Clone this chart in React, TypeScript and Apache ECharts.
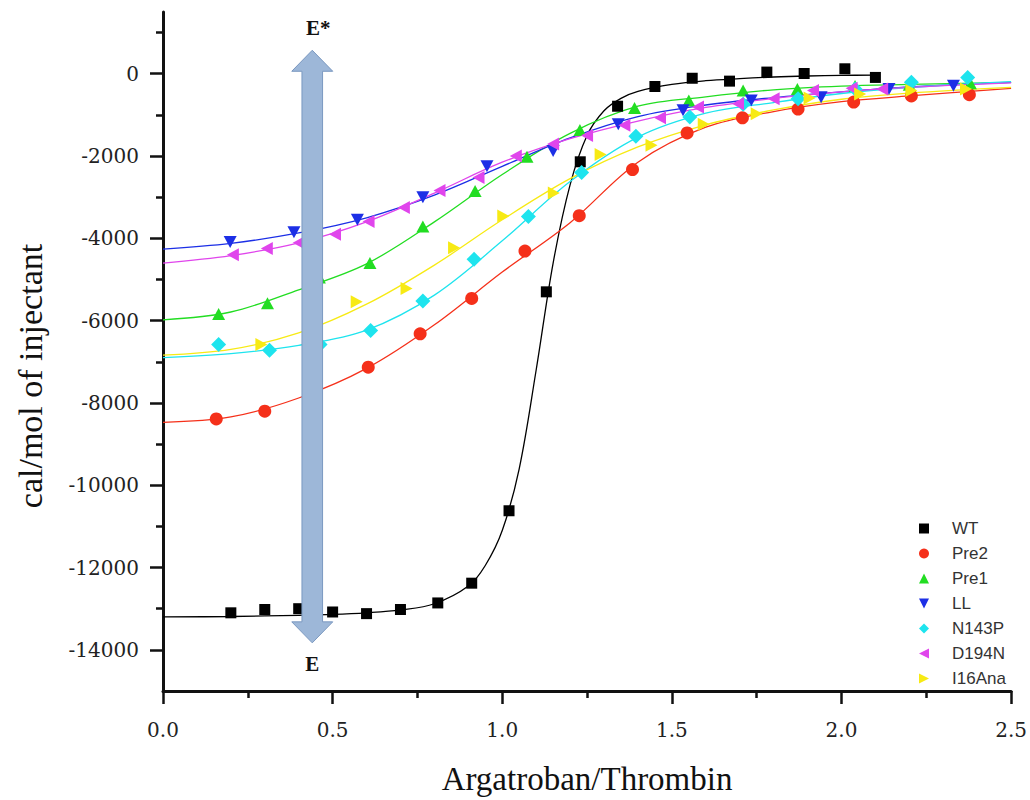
import React, { useEffect, useRef } from "react";
import * as echarts from "echarts";

// ---- data ----
const seriesNames = ["WT", "Pre2", "Pre1", "LL", "N143P", "D194N", "I16Ana"];
const seriesColors = ["#000000", "#f5301a", "#22dd22", "#1c2fe6", "#1ee4ee", "#e045ec", "#f7ea14"];

const wtX = [0.2, 0.3, 0.4, 0.5, 0.6, 0.7, 0.81, 0.91, 1.02, 1.13, 1.23, 1.34, 1.45, 1.56, 1.67, 1.78, 1.89, 2.01, 2.1];
const wtY = [-13100, -13020, -13000, -13080, -13120, -13020, -12860, -12380, -10620, -5300, -2140, -790, -310, -110, -180, 40, 5, 120, -90];

const pre2X = [0.157, 0.3, 0.45, 0.605, 0.758, 0.91, 1.067, 1.227, 1.384, 1.545, 1.708, 1.872, 2.036, 2.206, 2.377];
const pre2Y = [-8390, -8200, -7750, -7130, -6320, -5460, -4310, -3450, -2330, -1440, -1070, -860, -690, -540, -510];

const pre1X = [0.164, 0.308, 0.461, 0.61, 0.766, 0.92, 1.073, 1.229, 1.39, 1.55, 1.71, 1.87, 2.04, 2.2, 2.38];
const pre1Y = [-5840, -5580, -4950, -4600, -3710, -2850, -2020, -1370, -830, -650, -410, -370, -300, -270, -230];

const llX = [0.198, 0.386, 0.573, 0.766, 0.955, 1.15, 1.342, 1.533, 1.734, 1.94, 2.14, 2.33];
const llY = [-4090, -3850, -3550, -3000, -2250, -1880, -1230, -890, -650, -570, -370, -290];

const n143pX = [0.164, 0.314, 0.463, 0.612, 0.766, 0.917, 1.077, 1.234, 1.394, 1.553, 1.71, 1.872, 2.04, 2.206, 2.372];
const n143pY = [-6580, -6720, -6580, -6240, -5520, -4510, -3470, -2400, -1520, -1050, -740, -610, -370, -210, -90];

const d194nX = [0.206, 0.306, 0.4, 0.507, 0.606, 0.71, 0.815, 0.93, 1.04, 1.15, 1.25, 1.36, 1.465, 1.577, 1.695, 1.8, 1.916, 2.03, 2.12];
const d194nY = [-4400, -4250, -4110, -3900, -3590, -3250, -2840, -2520, -2000, -1710, -1500, -1250, -1070, -810, -730, -610, -410, -350, -370];

const i16X = [0.29, 0.43, 0.571, 0.718, 0.858, 1.003, 1.152, 1.29, 1.44, 1.594, 1.75, 1.906, 2.055, 2.206, 2.367];
const i16Y = [-6580, -6150, -5540, -5220, -4230, -3460, -2900, -1960, -1740, -1230, -970, -590, -490, -410, -370];

// fitted curves
const wtFitX = [0, 0.2, 0.4, 0.5, 0.6, 0.7, 0.8, 0.9, 0.95, 1.0, 1.05, 1.1, 1.15, 1.2, 1.25, 1.3, 1.35, 1.4, 1.5, 1.6, 1.7, 1.8, 1.9, 2.0, 2.1];
const wtFitY = [-13200, -13190, -13160, -13140, -13100, -13030, -12880, -12450, -11950, -11100, -9600, -7200, -4600, -2700, -1500, -900, -600, -430, -260, -170, -120, -80, -55, -40, -35];

const fitX = [0, 0.2, 0.4, 0.6, 0.8, 1.0, 1.2, 1.4, 1.6, 1.8, 2.0, 2.2, 2.5];
const pre2Fit = [-8470, -8340, -7880, -7160, -6100, -4820, -3620, -2150, -1300, -920, -680, -540, -355];
const pre1Fit = [-5980, -5790, -5250, -4620, -3600, -2450, -1450, -790, -560, -390, -300, -260, -210];
const llFit = [-4260, -4120, -3870, -3500, -2950, -2250, -1560, -1040, -760, -580, -440, -320, -210];
const n143pFit = [-6900, -6800, -6600, -6230, -5380, -4060, -2620, -1540, -960, -700, -480, -335, -195];
const d194nFit = [-4600, -4420, -4110, -3600, -2900, -2150, -1580, -1150, -820, -600, -440, -330, -220];
const i16Fit = [-6840, -6700, -6300, -5600, -4650, -3550, -2550, -1780, -1240, -880, -620, -470, -330];

const xTicks = [0, 0.5, 1.0, 1.5, 2.0, 2.5];
const yLabelTicks = [0, -2000, -4000, -6000, -8000, -10000, -12000, -14000];
const yMinorTicks = [1000, -1000, -3000, -5000, -7000, -9000, -11000, -13000];

// arrow annotation (in data units)
const arrowX = 0.44;
const arrowTop = 570;
const arrowBottom = -13830;

const zip = (xs: number[], ys: number[]) => xs.map((x, i) => [x, ys[i]]);

const markerX = [wtX, pre2X, pre1X, llX, n143pX, d194nX, i16X];
const markerY = [wtY, pre2Y, pre1Y, llY, n143pY, d194nY, i16Y];
const fitXs = [wtFitX, fitX, fitX, fitX, fitX, fitX, fitX];
const fitYs = [wtFitY, pre2Fit, pre1Fit, llFit, n143pFit, d194nFit, i16Fit];
const symbols = [
  "rect",
  "circle",
  "path://M5,0L10,10L0,10Z",
  "path://M0,0L10,0L5,10Z",
  "diamond",
  "path://M0,5L10,0L10,10Z",
  "path://M0,0L10,5L0,10Z",
];
const symbolSizes: any[] = [11, 13, [13, 12], [13, 12], 15, [12, 13], [12, 13]];

export default function App() {
  const ref = useRef<HTMLDivElement>(null);
  useEffect(() => {
    document.body.style.margin = "0";
    const chart = echarts.init(ref.current!, null, { renderer: "svg" });
    const serif = '"Liberation Serif", "Times New Roman", serif';
    const tickFont = 'Georgia, "DejaVu Serif", serif';

    const series: any[] = [];
    seriesNames.forEach((name, i) => {
      series.push({
        name: name + " fit",
        type: "line",
        data: zip(fitXs[i], fitYs[i]),
        showSymbol: false,
        symbol: "none",
        smooth: 0.35,
        lineStyle: { color: seriesColors[i], width: 1.3 },
        z: 2,
        silent: true,
      });
    });
    seriesNames.forEach((name, i) => {
      series.push({
        name,
        type: "scatter",
        data: zip(markerX[i], markerY[i]),
        symbol: symbols[i],
        symbolSize: symbolSizes[i],
        itemStyle: { color: seriesColors[i], opacity: 1 },
        z: 3,
      });
    });

    const option: any = {
      animation: false,
      backgroundColor: "#ffffff",
      grid: { left: 163, right: 18, top: 12, bottom: 97 },
      xAxis: {
        type: "value",
        min: 0,
        max: 2.5,
        interval: 0.5,
        name: "Argatroban/Thrombin",
        nameLocation: "middle",
        nameGap: 71,
        nameTextStyle: { fontFamily: serif, fontSize: 33, color: "#111" },
        axisLine: { show: true, onZero: false, lineStyle: { color: "#111", width: 3 } },
        axisTick: { show: true, length: 13, lineStyle: { color: "#111", width: 2.5 } },
        minorTick: { show: true, splitNumber: 2, length: 7, lineStyle: { color: "#111", width: 2.5 } },
        splitLine: { show: false },
        minorSplitLine: { show: false },
        axisLabel: {
          margin: 29,
          fontFamily: tickFont,
          fontSize: 20,
          color: "#222",
          formatter: (v: number) => v.toFixed(1),
          customValues: xTicks,
        },
      },
      yAxis: [
        {
          type: "value",
          min: -15000,
          max: 1500,
          axisLine: { show: true, onZero: false, lineStyle: { color: "#111", width: 3 } },
          axisTick: { show: true, length: 13, customValues: yLabelTicks, lineStyle: { color: "#111", width: 2.5 } },
          splitLine: { show: false },
          axisLabel: {
            margin: 24,
            fontFamily: tickFont,
            fontSize: 20,
            color: "#222",
            customValues: yLabelTicks,
            formatter: (v: number) => String(v),
          },
        },
        {
          type: "value",
          position: "left",
          min: -15000,
          max: 1500,
          axisLine: { show: false },
          axisTick: { show: true, length: 7, customValues: yMinorTicks, lineStyle: { color: "#111", width: 2.5 } },
          axisLabel: { show: false },
          splitLine: { show: false },
        },
      ],
      legend: {
        orient: "vertical",
        left: 914,
        top: 515,
        itemWidth: 10,
        itemHeight: 10,
        itemGap: 8,
        textStyle: {
          fontFamily: '"Liberation Sans", Arial, sans-serif',
          fontSize: 17,
          lineHeight: 17,
          color: "#333",
          padding: [0, 0, 0, 18],
        },
        data: seriesNames,
      },
      series,
    };
    chart.setOption(option);

    const top = chart.convertToPixel({ xAxisIndex: 0, yAxisIndex: 0 }, [arrowX, arrowTop]) as number[];
    const bot = chart.convertToPixel({ xAxisIndex: 0, yAxisIndex: 0 }, [arrowX, arrowBottom]) as number[];
    const cx = top[0];
    const hw = 10.3;
    const hh = 20.5;
    const hl = 21;
    const pts = [
      [cx, top[1]],
      [cx + hh, top[1] + hl],
      [cx + hw, top[1] + hl],
      [cx + hw, bot[1] - hl],
      [cx + hh, bot[1] - hl],
      [cx, bot[1]],
      [cx - hh, bot[1] - hl],
      [cx - hw, bot[1] - hl],
      [cx - hw, top[1] + hl],
      [cx - hh, top[1] + hl],
    ];
    chart.setOption({
      graphic: [
        {
          type: "polygon",
          z: 100,
          shape: { points: pts },
          style: { fill: "#9db7d8", stroke: "#7a98c0", lineWidth: 1 },
        },
        {
          type: "text",
          z: 100,
          x: cx + 6,
          y: top[1] - 22,
          style: { text: "E*", font: 'bold 21px "Liberation Serif", serif', fill: "#111", align: "center", verticalAlign: "middle" },
        },
        {
          type: "text",
          z: 100,
          x: cx,
          y: bot[1] + 21,
          style: { text: "E", font: 'bold 21px "Liberation Serif", serif', fill: "#111", align: "center", verticalAlign: "middle" },
        },
        {
          type: "text",
          z: 100,
          x: 30,
          y: 376,
          rotation: Math.PI / 2,
          style: {
            text: "cal/mol of injectant",
            font: '34px "Liberation Serif", "Times New Roman", serif',
            fill: "#111",
            align: "center",
            verticalAlign: "middle",
          },
        },
      ],
    });

    return () => chart.dispose();
  }, []);
  return <div ref={ref} style={{ width: 1030, height: 800 }} />;
}
